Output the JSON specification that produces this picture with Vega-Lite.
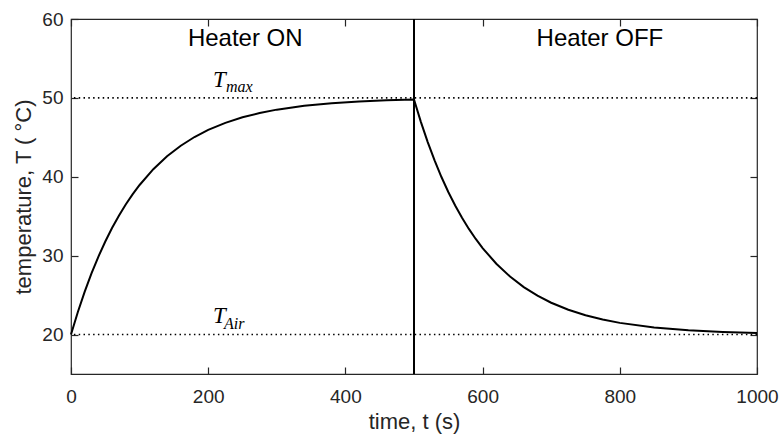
{
  "$schema": "https://vega.github.io/schema/vega-lite/v6.json",
  "width": 686,
  "height": 355,
  "autosize": "none",
  "padding": {"left": 71, "top": 19, "right": 24, "bottom": 62},
  "background": "white",
  "config": {
    "font": "Liberation Sans",
    "view": {"stroke": "#262626", "strokeWidth": 1.2},
    "axis": {
      "domain": false,
      "offset": -7,
      "ticks": true,
      "tickColor": "#262626",
      "tickWidth": 1.2,
      "tickSize": 7,
      "tickOpacity": 1,
      "grid": false,
      "labelFlush": false,
      "labelOverlap": false,
      "labelColor": "#262626",
      "labelFont": "Liberation Sans",
      "labelFontSize": 19,
      "titleColor": "#262626",
      "titleFont": "Liberation Sans",
      "titleFontSize": 22,
      "titleFontWeight": "normal"
    }
  },
  "datasets": {
    "temp": [
      {"t": 0, "T": 20.0}, {"t": 10, "T": 22.86}, {"t": 20, "T": 25.44}, {"t": 30, "T": 27.78},
      {"t": 40, "T": 29.89}, {"t": 50, "T": 31.8}, {"t": 60, "T": 33.54}, {"t": 70, "T": 35.1},
      {"t": 80, "T": 36.52}, {"t": 90, "T": 37.8}, {"t": 100, "T": 38.96}, {"t": 120, "T": 40.96},
      {"t": 140, "T": 42.6}, {"t": 160, "T": 43.94}, {"t": 180, "T": 45.04}, {"t": 200, "T": 45.94},
      {"t": 225, "T": 46.84}, {"t": 250, "T": 47.54}, {"t": 275, "T": 48.08}, {"t": 300, "T": 48.51},
      {"t": 340, "T": 49.0}, {"t": 380, "T": 49.33}, {"t": 420, "T": 49.55}, {"t": 460, "T": 49.7},
      {"t": 500, "T": 49.8}, {"t": 510, "T": 46.96}, {"t": 520, "T": 44.4}, {"t": 530, "T": 42.08},
      {"t": 540, "T": 39.97}, {"t": 550, "T": 38.07}, {"t": 560, "T": 36.35}, {"t": 570, "T": 34.8},
      {"t": 580, "T": 33.39}, {"t": 590, "T": 32.12}, {"t": 600, "T": 30.96}, {"t": 620, "T": 28.98},
      {"t": 640, "T": 27.35}, {"t": 660, "T": 26.02}, {"t": 680, "T": 24.93}, {"t": 700, "T": 24.03},
      {"t": 725, "T": 23.14}, {"t": 750, "T": 22.45}, {"t": 775, "T": 21.9}, {"t": 800, "T": 21.48},
      {"t": 850, "T": 20.9}, {"t": 900, "T": 20.55}, {"t": 950, "T": 20.33}, {"t": 1000, "T": 20.2}
    ],
    "levels": [{"level": 50}, {"level": 20}],
    "switch": [{"t": 500}],
    "phases": [
      {"t": 254, "T": 56.6, "label": "Heater ON"},
      {"t": 771, "T": 56.6, "label": "Heater OFF"}
    ],
    "sym": [
      {"t": 207, "T": 51.38, "label": "T"},
      {"t": 207, "T": 21.47, "label": "T"}
    ],
    "sub": [
      {"t": 226, "T": 50.75, "label": "max"},
      {"t": 223, "T": 20.71, "label": "Air"}
    ]
  },
  "layer": [
    {
      "data": {"name": "temp"},
      "mark": {"type": "line", "color": "black", "strokeWidth": 2},
      "encoding": {
        "x": {
          "field": "t", "type": "quantitative",
          "scale": {"domain": [0, 1000], "nice": false},
          "axis": {"values": [0, 200, 400, 600, 800, 1000], "format": "d", "title": "time, t (s)", "labelPadding": 13, "titlePadding": 5}
        },
        "y": {
          "field": "T", "type": "quantitative",
          "scale": {"domain": [15, 60], "nice": false, "zero": false},
          "axis": {"values": [20, 30, 40, 50, 60], "title": "temperature, T ( °C)", "labelPadding": 8, "titlePadding": 6}
        }
      }
    },
    {
      "data": {"name": "levels"},
      "mark": {"type": "rule", "color": "black", "strokeWidth": 1.6, "strokeDash": [1.5, 3.3]},
      "encoding": {
        "y": {
          "field": "level", "type": "quantitative",
          "axis": {"orient": "right", "values": [20, 30, 40, 50, 60], "labels": false, "title": null}
        }
      }
    },
    {
      "data": {"name": "switch"},
      "mark": {"type": "rule", "color": "black", "strokeWidth": 2},
      "encoding": {
        "x": {
          "field": "t", "type": "quantitative",
          "axis": {"orient": "top", "values": [0, 200, 400, 600, 800, 1000], "labels": false, "title": null}
        }
      }
    },
    {
      "data": {"name": "phases"},
      "mark": {"type": "text", "font": "Liberation Sans", "fontSize": 24, "color": "black", "align": "center", "baseline": "alphabetic"},
      "encoding": {
        "x": {"field": "t", "type": "quantitative", "axis": null},
        "y": {"field": "T", "type": "quantitative", "axis": null},
        "text": {"field": "label"}
      }
    },
    {
      "data": {"name": "sym"},
      "mark": {"type": "text", "font": "Liberation Serif", "fontStyle": "italic", "fontSize": 23, "color": "black", "align": "left", "baseline": "alphabetic"},
      "encoding": {
        "x": {"field": "t", "type": "quantitative", "axis": null},
        "y": {"field": "T", "type": "quantitative", "axis": null},
        "text": {"field": "label"}
      }
    },
    {
      "data": {"name": "sub"},
      "mark": {"type": "text", "font": "Liberation Serif", "fontStyle": "italic", "fontSize": 16, "color": "black", "align": "left", "baseline": "alphabetic"},
      "encoding": {
        "x": {"field": "t", "type": "quantitative", "axis": null},
        "y": {"field": "T", "type": "quantitative", "axis": null},
        "text": {"field": "label"}
      }
    }
  ],
  "resolve": {"axis": {"x": "independent", "y": "independent"}}
}
